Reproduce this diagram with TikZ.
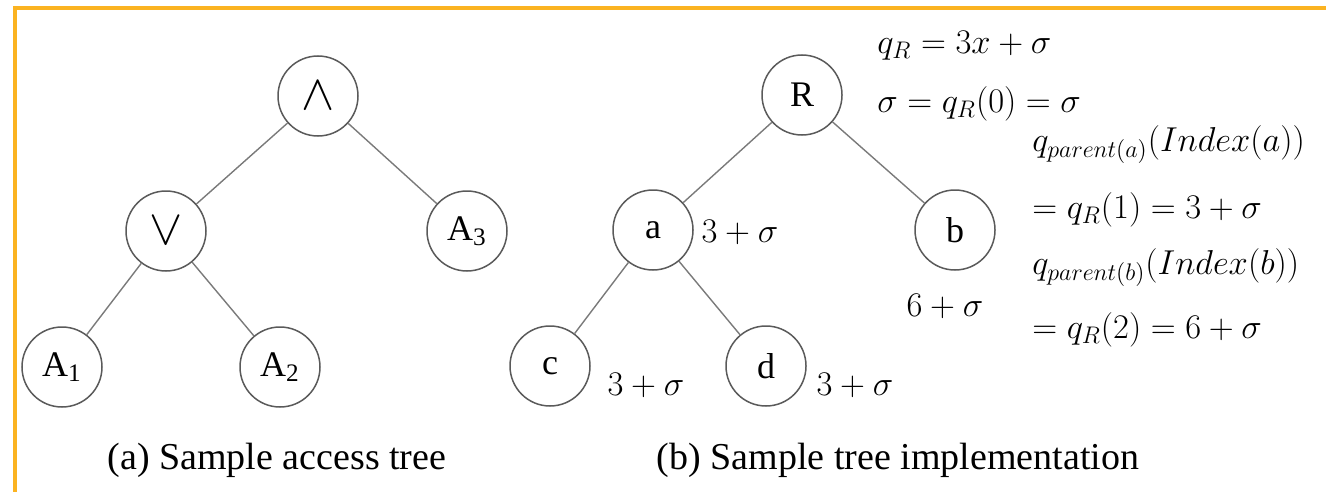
\documentclass[tikz,border=0pt]{standalone}
\usepackage{fontspec}
\setmainfont{Liberation Serif}
\usetikzlibrary{positioning}
\definecolor{frameorange}{HTML}{FBB321}
\definecolor{edgegray}{HTML}{7A7A7A}
\definecolor{ringgray}{HTML}{5A5A5A}

\begin{document}
\begin{tikzpicture}[
  x=0.5pt, y=-0.5pt,
  vert/.style={circle, draw=ringgray, line width=0.75pt, minimum size=40pt,
               inner sep=0pt, font=\fontsize{18}{22}\selectfont},
  gate/.style={vert, font=\fontsize{25}{30}\selectfont},
  edge/.style={draw=edgegray, line width=0.7pt},
  share/.style={inner sep=0pt, font=\fontsize{18}{22}\selectfont},
  eqn/.style={inner sep=0pt, anchor=west, font=\fontsize{18}{22}\selectfont},
  captext/.style={inner sep=0pt, font=\fontsize{19}{23}\selectfont}
]
\useasboundingbox (0,0) rectangle (1326,492);
\draw[frameorange, line width=2pt] (1326,8.5) -- (14.5,8.5) -- (14.5,492);

% ===== Left tree: access tree =====
\node[gate] (and) at (318,96)  {$\wedge$};
\node[gate] (or)  at (166,231) {$\vee$};
\node[vert] (a3)  at (467,231) {A\textsubscript{3}};
\node[vert] (a1)  at (62,367)  {A\textsubscript{1}};
\node[vert] (a2)  at (280,367) {A\textsubscript{2}};
\draw[edge] (and) -- (or);
\draw[edge] (and) -- (a3);
\draw[edge] (or) -- (a1);
\draw[edge] (or) -- (a2);

% ===== Right tree: implementation =====
\node[vert] (r) at (802,95)  {R};
\node[vert] (a) at (653,230) {a};
\node[vert] (b) at (955,230) {b};
\node[vert] (c) at (550,366) {c};
\node[vert] (d) at (766,366) {d};
\draw[edge] (r) -- (a);
\draw[edge] (r) -- (b);
\draw[edge] (a) -- (c);
\draw[edge] (a) -- (d);

% shares next to the nodes
\node[share] (sa) at (740,232) {$3+\sigma$};
\node[share] (sb) at (945,306) {$6+\sigma$};
\node[share] (sc) at (646,385) {$3+\sigma$};
\node[share] (sd) at (855,385) {$3+\sigma$};

% ===== Polynomial equations =====
\node[eqn] (e1) at (877,46)   {$q_R=3x+\sigma$};
\node[eqn] (e2) at (877,104)  {$\sigma=q_R(0)=\sigma$};
\node[eqn] (e3) at (1032,145) {$q_{parent(a)}(Index(a))$};
\node[eqn] (e4) at (1032,210) {$=q_R(1)=3+\sigma$};
\node[eqn] (e5) at (1032,268) {$q_{parent(b)}(Index(b))$};
\node[eqn] (e6) at (1032,330) {$=q_R(2)=6+\sigma$};

% ===== Captions =====
\node[captext] (capa) at (277,460) {(a) Sample access tree};
\node[captext] (capb) at (898,460) {(b) Sample tree implementation};
\end{tikzpicture}
\end{document}
